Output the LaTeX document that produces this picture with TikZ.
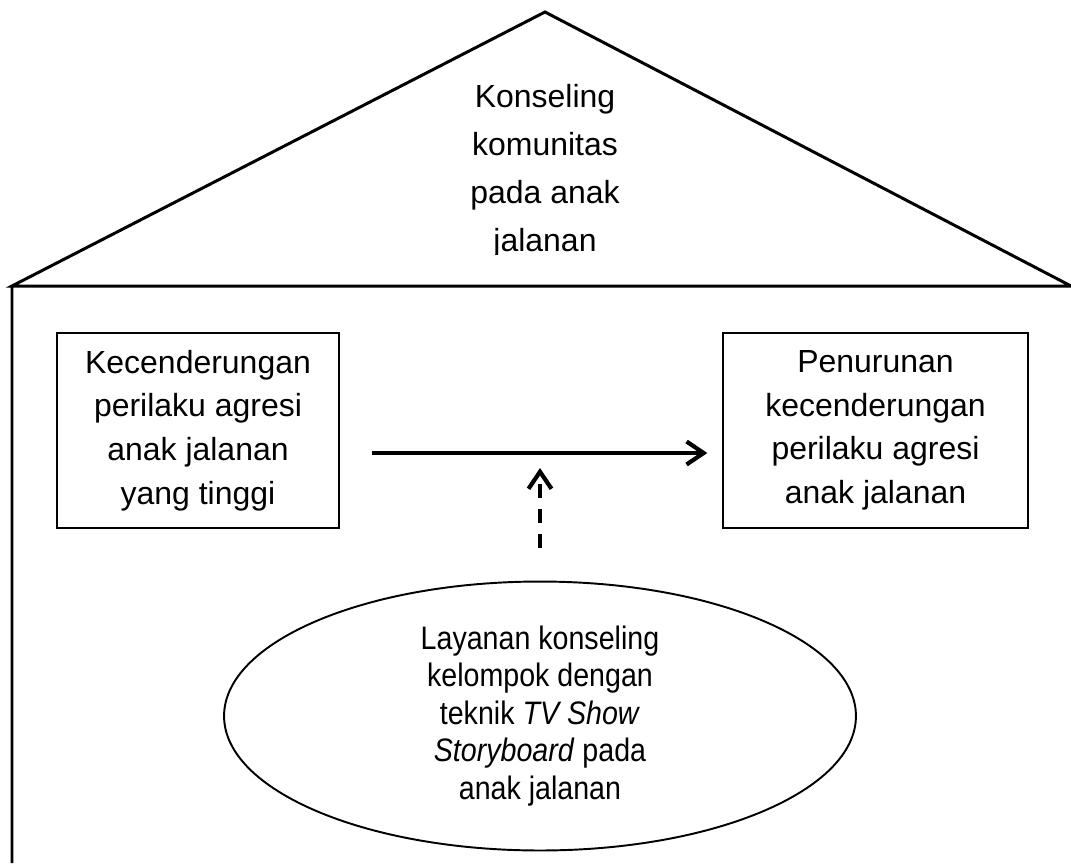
\documentclass[tikz,border=0pt]{standalone}
\usepackage{fontspec}
\setmainfont{Liberation Sans}
\usetikzlibrary{arrows.meta,shapes.geometric}

\begin{document}
\begin{tikzpicture}[scale=1, line join=miter, >={Straight Barb[length=0.34cm,width=0.46cm]}, x=0.02cm, y=-0.02cm,
	txt/.style={font=\fontsize{18.2}{24.8}\selectfont, align=center},
	kotak/.style={draw, line width=0.8pt, txt, inner sep=0pt, minimum height=3.9cm},
	elips/.style={draw, ellipse, line width=1.1pt, inner sep=0pt, minimum width=12.64cm, minimum height=5.38cm, align=center, font=\fontsize{18.5}{21.3}\selectfont\addfontfeatures{FakeStretch=0.88}}]
	\useasboundingbox (0,0) rectangle (1071,863);
	% rumah
	\draw[line width=1.7pt] (12,286) -- (545,12) -- (1071,286) -- cycle (12,286) -- (12,863);
	\begin{scope}
		\clip (0,0) rectangle (1071,254);
		\node[txt, font=\fontsize{18.2}{27.3}\selectfont] (atap) at (545,171) {Konseling\\komunitas\\pada anak\\jalanan};
	\end{scope}
	\node[kotak, minimum width=5.64cm] (awal) at (198,430.5) {Kecenderungan\\perilaku agresi\\anak jalanan\\yang tinggi};
	\node[kotak, minimum width=6.1cm] (akhir) at (875.5,430.5) {Penurunan\\kecenderungan\\perilaku agresi\\anak jalanan};
	\node[elips] (layanan) at (540,716) {Layanan konseling\\kelompok dengan\\teknik \textit{TV Show}\\\textit{Storyboard} pada\\anak jalanan};
	\coordinate (ujung) at (540,468);
	\draw[->, line width=2.4pt, shorten <=0.64cm, shorten >=0.3cm] ([yshift=-0.45cm]awal.east) -- ([yshift=-0.45cm]akhir.west);
	\draw[->, line width=2.4pt, dash pattern=on 0.28cm off 0.22cm, shorten <=0.66cm] (layanan.north) -- (ujung);
\end{tikzpicture}
\end{document}
